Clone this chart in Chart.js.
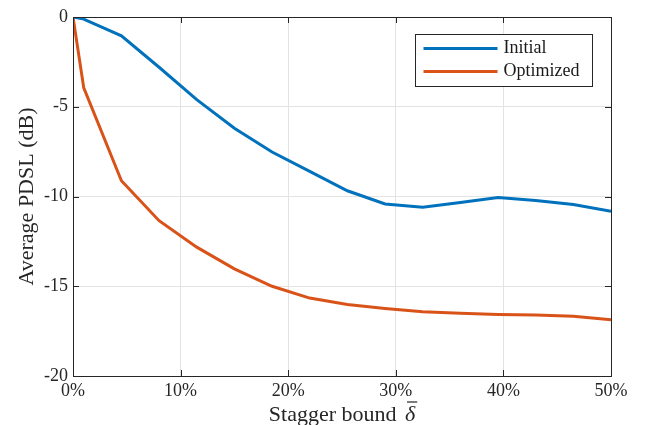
<!DOCTYPE html>
<html>
<head>
<meta charset="utf-8">
<script src="https://cdn.jsdelivr.net/npm/chart.js@4.4.1/dist/chart.umd.min.js"></script>
<style>
  html, body { margin: 0; padding: 0; background: #fff; }
  #wrap { width: 647px; height: 425px; }
</style>
</head>
<body>
<div id="wrap"><canvas id="grafico"></canvas></div>
<script>
// stagger bound (fraction) and average PDSL in dB
const stagger = [0, 0.01, 0.045, 0.08, 0.115, 0.15, 0.185, 0.22, 0.255, 0.29, 0.325, 0.36, 0.395, 0.43, 0.465, 0.5];
const initial = [0, -0.12, -1.05, -2.8, -4.6, -6.2, -7.52, -8.6, -9.68, -10.42, -10.6, -10.33, -10.06, -10.22, -10.45, -10.83];
const optimized = [0, -3.95, -9.12, -11.35, -12.82, -14.03, -15.0, -15.66, -16.02, -16.24, -16.42, -16.5, -16.57, -16.6, -16.67, -16.87];
const seriesNames = ['Initial', 'Optimized'];
const xTicks = [0, 0.1, 0.2, 0.3, 0.4, 0.5];
const yTicks = [0, -5, -10, -15, -20];
const xTitulo = 'Stagger bound ';
const xSimbolo = 'δ';

const fonte = '"Liberation Serif", "DejaVu Serif", serif';
const corEixo = '#262626';

function pontos(ys) {
  return stagger.map((x, i) => ({x: x, y: ys[i]}));
}

/* moldura, marcas internas, titulo do eixo x e legenda no estilo matlab */
const molduraPlugin = {
  id: 'moldura',
  afterDraw(chart) {
    const c = chart.ctx;
    const a = chart.chartArea;
    const sx = chart.scales.x, sy = chart.scales.y;
    c.save();
    c.strokeStyle = corEixo;
    c.lineWidth = 1;
    c.beginPath();
    xTicks.forEach(v => {
      const px = Math.round(sx.getPixelForValue(v)) + 0.5;
      c.moveTo(px, a.bottom); c.lineTo(px, a.bottom - 6);
      c.moveTo(px, a.top); c.lineTo(px, a.top + 6);
    });
    yTicks.forEach(v => {
      const py = Math.round(sy.getPixelForValue(v)) + 0.5;
      c.moveTo(a.left, py); c.lineTo(a.left + 6, py);
      c.moveTo(a.right, py); c.lineTo(a.right - 6, py);
    });
    c.stroke();
    c.strokeRect(Math.round(a.left) + 0.5, Math.round(a.top) + 0.5,
      Math.round(a.right - a.left), Math.round(a.bottom - a.top));

    // titulo x com a barra sobre o delta
    c.fillStyle = corEixo;
    c.textBaseline = 'alphabetic';
    c.font = '22px ' + fonte;
    const w1 = c.measureText(xTitulo).width + 3;
    c.font = 'italic 22px ' + fonte;
    const w2 = c.measureText(xSimbolo).width;
    const x0 = (a.left + a.right) / 2 - (w1 + w2) / 2;
    const base = 421;
    c.font = '22px ' + fonte;
    c.fillText(xTitulo, x0, base);
    c.font = 'italic 22px ' + fonte;
    c.fillText(xSimbolo, x0 + w1, base);
    c.lineWidth = 1.2;
    c.beginPath();
    c.moveTo(x0 + w1 + 2, base - 19);
    c.lineTo(x0 + w1 + w2 + 2, base - 19);
    c.stroke();

    // legenda
    c.lineWidth = 1;
    const bx = 415.5, by = 34.5, bw = 177, bh = 52;
    c.fillStyle = '#fff';
    c.fillRect(bx, by, bw, bh);
    c.strokeRect(bx, by, bw, bh);
    c.font = '18px ' + fonte;
    c.textBaseline = 'middle';
    chart.data.datasets.forEach((ds, i) => {
      const ly = by + 14 + i * 23;
      c.strokeStyle = ds.borderColor;
      c.lineWidth = 3;
      c.beginPath();
      c.moveTo(bx + 8, ly); c.lineTo(bx + 82, ly);
      c.stroke();
      c.fillStyle = '#1a1a1a';
      c.fillText(ds.label, bx + 88, ly);
    });
    c.restore();
  }
};

document.addEventListener('DOMContentLoaded', () => {
  const ctx = document.getElementById('grafico').getContext('2d');

  new Chart(ctx, {
    type: 'line',
    data: {
      datasets: [
        {
          label: seriesNames[0],
          data: pontos(initial),
          borderColor: '#0072BD',
          borderWidth: 3,
          pointRadius: 0,
          tension: 0
        },
        {
          label: seriesNames[1],
          data: pontos(optimized),
          borderColor: '#D95319',
          borderWidth: 3,
          pointRadius: 0,
          tension: 0
        }
      ]
    },
    options: {
      responsive: true,
      maintainAspectRatio: false,
      animation: false,
      layout: {padding: {left: 0, top: 17, right: 36, bottom: 0}},
      scales: {
        x: {
          type: 'linear',
          min: 0,
          max: 0.5,
          afterBuildTicks: s => { s.ticks = xTicks.map(v => ({value: v})); },
          afterFit: s => { s.height = 49; },
          grid: {color: '#e3e3e3', drawTicks: false},
          border: {display: false},
          ticks: {
            color: '#262626',
            font: {family: fonte, size: 18},
            padding: 4,
            maxRotation: 0,
            callback: v => Math.round(v * 100) + '%'
          }
        },
        y: {
          min: -20,
          max: 0,
          afterBuildTicks: s => { s.ticks = yTicks.map(v => ({value: v})); },
          afterFit: s => { s.width = 73; },
          grid: {color: '#e3e3e3', drawTicks: false},
          border: {display: false},
          ticks: {
            color: '#262626',
            font: {family: fonte, size: 18},
            padding: 5
          },
          title: {
            display: true,
            text: 'Average PDSL (dB)',
            color: '#262626',
            font: {family: fonte, size: 22},
            padding: {top: 14, bottom: 0}
          }
        }
      },
      plugins: {
        legend: {display: false},
        tooltip: {enabled: false}
      }
    },
    plugins: [molduraPlugin]
  });
});
</script>
</body>
</html>
